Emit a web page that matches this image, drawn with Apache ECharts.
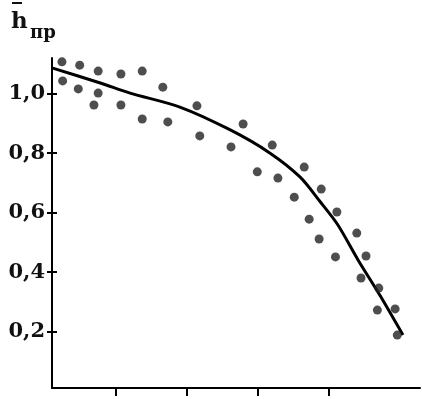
<!DOCTYPE html>
<html>
<head>
<meta charset="utf-8">
<script src="https://cdn.jsdelivr.net/npm/echarts@6/dist/echarts.min.js"></script>
<style>
html, body { margin: 0; padding: 0; background: #fff; }
#main { width: 422px; height: 399px; }
</style>
</head>
<body>
<div id="main"></div>
<script>
// measured points (x in tick units, y = h_пр)
var pointX = [0.24, 0.49, 0.75, 1.07, 1.37, 0.25, 0.47, 0.75, 0.69, 1.07, 1.66, 1.37, 1.73,
    2.14, 2.18, 2.79, 2.62, 3.20, 2.99, 3.28, 3.51, 3.65, 3.89, 4.11, 3.72, 3.86, 4.39,
    4.52, 4.09, 4.45, 4.70, 4.68, 4.93, 4.96];
var pointY = [1.107, 1.096, 1.076, 1.066, 1.076, 1.043, 1.016, 1.002, 0.962, 0.962, 1.022, 0.915, 0.905,
    0.959, 0.858, 0.898, 0.821, 0.827, 0.737, 0.716, 0.652, 0.753, 0.679, 0.602, 0.578, 0.511, 0.531,
    0.454, 0.451, 0.380, 0.346, 0.272, 0.276, 0.188];

// fitted curve
var curveX = [0.11, 0.78, 1.20, 1.90, 2.61, 3.17, 3.59, 3.87, 4.12, 4.41, 4.72, 5.04];
var curveY = [1.086, 1.036, 1.002, 0.955, 0.878, 0.800, 0.720, 0.638, 0.560, 0.440, 0.320, 0.188];

var yTicks = [0.2, 0.4, 0.6, 0.8, 1.0];
var xTicks = [1, 2, 3, 4];

function pairs(xs, ys) {
    var out = [];
    for (var i = 0; i < xs.length; i++) {
        out.push([xs[i], ys[i]]);
    }
    return out;
}

var chart = echarts.init(document.getElementById('main'));

var labelFont = 'DejaVu Serif';

chart.setOption({
    animation: false,
    grid: { left: 52, right: 2, top: 58, bottom: 11 },
    xAxis: {
        type: 'value',
        min: 0.1,
        max: 5.28,
        axisLine: { lineStyle: { color: '#000', width: 2 } },
        axisTick: { show: true, customValues: xTicks, length: 8, lineStyle: { color: '#000', width: 2 } },
        axisLabel: { show: false },
        splitLine: { show: false }
    },
    yAxis: [
        {
            type: 'value',
            min: 0.01,
            max: 1.12,
            axisLine: { show: true, lineStyle: { color: '#000', width: 2 } },
            axisTick: { show: true, customValues: yTicks, length: 5, lineStyle: { color: '#000', width: 2 } },
            axisLabel: {
                customValues: yTicks,
                margin: 7,
                color: '#111',
                fontFamily: labelFont,
                fontWeight: 'bold',
                fontSize: 21,
                formatter: function (v) { return v.toFixed(1).replace('.', ','); }
            },
            splitLine: { show: false }
        },
        {
            type: 'value',
            min: 0.01,
            max: 1.12,
            position: 'left',
            axisLine: { show: false },
            axisTick: { show: true, inside: true, customValues: yTicks, length: 5, lineStyle: { color: '#000', width: 2 } },
            axisLabel: { show: false },
            splitLine: { show: false }
        }
    ],
    graphic: [
        {
            type: 'rect', left: 12, top: 2,
            shape: { width: 10, height: 2 },
            style: { fill: '#111' }
        },
        {
            type: 'text', left: 11, top: 11,
            style: { text: 'h', font: 'bold 23px "DejaVu Serif"', fill: '#111' }
        },
        {
            type: 'text', left: 30, top: 24,
            style: { text: 'пр', font: 'bold 18px "DejaVu Serif"', fill: '#111' }
        }
    ],
    series: [
        {
            type: 'scatter',
            data: pairs(pointX, pointY),
            symbol: 'circle',
            symbolSize: 9,
            itemStyle: { color: '#222' },
            z: 3
        },
        {
            type: 'line',
            data: pairs(curveX, curveY),
            smooth: 0.3,
            symbol: 'none',
            lineStyle: { color: '#000', width: 3 },
            z: 2
        }
    ]
});
</script>
</body>
</html>
